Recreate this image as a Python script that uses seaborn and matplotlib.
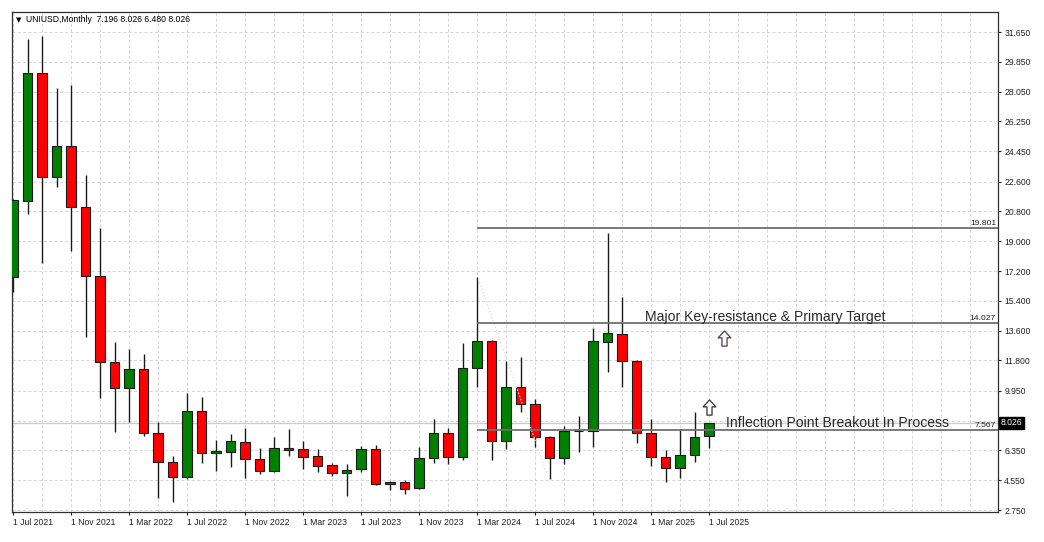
import numpy as np
import pandas as pd
import matplotlib
matplotlib.use('Agg')
import matplotlib.pyplot as plt
from matplotlib.path import Path
import seaborn as sns

# monthly UNIUSD candles, Jul 2021 .. Jul 2025
months = pd.date_range('2021-07-01', '2025-07-01', freq='MS')
opens = [16.84, 21.45, 29.19, 22.87, 24.76, 21.09, 16.90, 11.72, 10.11, 11.26, 7.39, 5.63,
         4.73, 8.76, 6.18, 6.28, 6.86, 5.85, 5.11, 6.52, 6.42, 6.02, 5.45, 5.00,
         5.23, 6.44, 4.30, 4.42, 4.06, 5.91, 7.39, 5.97, 11.32, 12.97, 6.94, 10.17,
         9.14, 7.18, 5.91, 7.55, 7.50, 12.89, 13.37, 11.78, 7.42, 5.97, 5.27, 6.05, 7.196]
highs = [21.55, 31.23, 31.41, 28.26, 28.45, 23.02, 19.82, 12.93, 12.46, 12.16, 8.05, 6.02,
         9.81, 9.56, 6.98, 7.35, 7.73, 6.52, 7.15, 7.63, 6.92, 6.42, 5.61, 5.51,
         6.64, 6.68, 4.50, 4.56, 6.58, 8.23, 7.73, 12.83, 16.86, 13.05, 11.78, 11.98,
         9.44, 7.22, 7.83, 8.43, 13.74, 19.48, 15.61, 11.85, 8.23, 6.38, 7.63, 8.66, 8.026]
lows = [15.93, 20.65, 17.70, 22.26, 18.43, 13.23, 9.50, 7.48, 8.09, 7.24, 3.49, 3.25,
        4.60, 5.61, 5.13, 5.33, 4.67, 4.91, 5.05, 6.02, 5.21, 5.06, 4.80, 3.60,
        5.06, 4.25, 3.95, 3.73, 4.00, 5.57, 5.51, 5.77, 10.21, 5.77, 6.42, 8.69,
        6.58, 4.61, 5.51, 6.25, 6.58, 11.11, 10.17, 6.81, 5.43, 4.44, 4.67, 5.65, 6.480]
closes = [21.49, 29.15, 22.87, 24.76, 21.09, 16.90, 11.72, 10.11, 11.26, 7.39, 5.63, 4.73,
          8.76, 6.18, 6.32, 6.92, 5.83, 5.13, 6.52, 6.39, 5.97, 5.43, 5.00, 5.18,
          6.44, 4.30, 4.42, 4.03, 5.91, 7.39, 5.97, 11.32, 12.97, 6.94, 10.17, 9.14,
          7.18, 5.91, 7.53, 7.50, 12.97, 13.43, 11.78, 7.42, 5.93, 5.27, 6.05, 7.15, 8.026]

ytick_vals = [31.65, 29.85, 28.05, 26.25, 24.45, 22.60, 20.80, 19.00, 17.20,
              15.40, 13.60, 11.80, 9.95, 6.35, 4.55, 2.75]
ytick_labels = ['%.3f' % v for v in ytick_vals]
hgrid_vals = ytick_vals + [8.15]

levels = [19.801, 14.027, 7.567]
level_labels = ['19.801', '14.027', '7.567']
level_start = pd.Timestamp('2024-03-01')
last_price = 8.026
header = 'UNIUSD,Monthly  7.196 8.026 6.480 8.026'

# faint trendline (month index, price)
trend_x = [32.1, 36.8]
trend_y = [16.7, 5.0]

note_major = 'Major Key-resistance & Primary Target'
note_infl = 'Inflection Point Breakout In Process'
arrow_x = [49, 48]
arrow_y = [13.16, 8.99]

df = pd.DataFrame({'Date': months, 'Open': opens, 'High': highs, 'Low': lows, 'Close': closes})
df['i'] = np.arange(len(df))

sns.set_theme(style='white')
plt.rcParams['font.family'] = ['Liberation Sans', 'DejaVu Sans']
plt.rcParams['lines.scale_dashes'] = False

fig = plt.figure(figsize=(10.44, 5.42), dpi=100)
ax = fig.add_axes([12 / 1044, 30 / 542, 986 / 1044, 500 / 542])
ax.set_facecolor('white')

xmin, xmax = -1 / 14.5, 985 / 14.5
ax.set_xlim(xmin, xmax)
ax.set_ylim(2.63, 32.86)

# dashed grid
for v in hgrid_vals:
    ax.axhline(v, color='#d6d6d6', lw=0.7, ls=(0, (2.2, 1.6)), zorder=0)
for v in range(0, 68, 2):
    ax.axvline(v, color='#d6d6d6', lw=0.7, ls=(0, (2.2, 1.6)), zorder=0)

# bid line
ax.axhline(last_price, color='#cccccc', lw=1.0, zorder=1)

# candles
up = df.Close >= df.Open
cols = np.where(up, '#008000', '#ff0000')
ax.vlines(df.i, df.Low, df.High, color='#1a1a1a', lw=1.0, zorder=2)
body_bottom = np.minimum(df.Open, df.Close)
body_h = np.maximum(np.abs(df.Close - df.Open), 0.03)
ax.bar(df.i, body_h, bottom=body_bottom, width=0.64, color=cols,
       edgecolor='#1a1a1a', linewidth=0.8, zorder=3)

ax.plot(trend_x, trend_y, color='#e0e0e0', lw=0.8, ls=(0, (1.2, 1.2)), zorder=3.5)

# level lines
start_i = months.get_loc(level_start)
ax.hlines(levels, start_i, xmax, color='#707070', lw=1.3, zorder=4)
for v, lab in zip(levels, level_labels):
    ax.text(0.998, v + 0.07, lab, transform=ax.get_yaxis_transform(), ha='right',
            va='bottom', fontsize=6.1, color='#202020', zorder=5)

ax.text(43.6, 14.027 + 0.14, note_major, fontsize=10.1, color='#2a2a2a',
        va='baseline', ha='left', zorder=5)
ax.text(49.2, 7.567 + 0.18, note_infl, fontsize=10.1, color='#2a2a2a',
        va='baseline', ha='left', zorder=5)

arrow = Path([(-0.5, 0.05), (0.0, 0.6), (0.5, 0.05), (0.2, 0.05), (0.2, -0.6),
              (-0.2, -0.6), (-0.2, 0.05), (-0.5, 0.05)], closed=True)
ax.scatter(arrow_x[:1], arrow_y[:1], marker=arrow, s=120, facecolor='white',
           edgecolor='#4a3a5a', linewidth=0.9, zorder=6)
ax.scatter(arrow_x[1:], arrow_y[1:], marker=arrow, s=120, facecolor='white',
           edgecolor='#303030', linewidth=0.9, zorder=6)

# header
ax.text(4 / 986, 1 - 8 / 500, '\u25bc', transform=ax.transAxes, fontsize=5,
        va='center', ha='left', color='black', family=['DejaVu Sans'])
ax.text(14.5 / 986, 1 - 8 / 500, header, transform=ax.transAxes, fontsize=6.2,
        va='center', ha='left', color='black')

# current price box
ax.text(1.003, last_price, '%.3f' % last_price, transform=ax.get_yaxis_transform(),
        ha='left', va='center', color='white', fontsize=6.2, clip_on=False,
        bbox=dict(boxstyle='square,pad=0.2', fc='black', ec='black'), zorder=7)

# axes
ax.yaxis.tick_right()
ax.set_yticks(ytick_vals, ytick_labels)
xt = df.i[::4]
ax.set_xticks(xt, ['1 ' + d.strftime('%b %Y') for d in df.Date[::4]], ha='left')
ax.tick_params(axis='y', right=True, left=False, length=2.5, width=0.8, pad=2,
               labelsize=6.2, colors='#202020')
ax.tick_params(axis='x', bottom=True, length=2.5, width=0.8, pad=1.5,
               labelsize=6.2, colors='#202020')
for s in ax.spines.values():
    s.set_visible(True)
    s.set_color('#303030')
    s.set_linewidth(0.9)
ax.grid(False)

plt.savefig('out.png', dpi=100)
